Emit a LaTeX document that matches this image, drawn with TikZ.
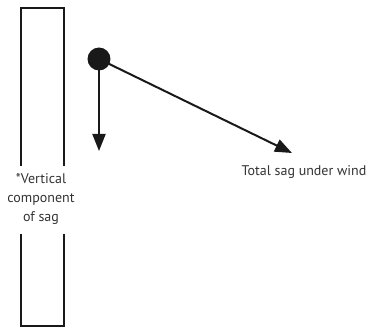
\documentclass[tikz,border=0pt]{standalone}
\usepackage{fontspec}
\setmainfont{PT Sans}
\usetikzlibrary{arrows.meta}
\begin{document}
\begin{tikzpicture}[x=1pt,y=-1pt,
  line/.style={line width=2pt,draw=black!90},
  arr/.style={line,-{Triangle[length=17pt,width=13pt]}},
  lbl/.style={font=\fontsize{14}{19}\selectfont,text=black!80,align=center,inner sep=0pt}]
\useasboundingbox (0,0) rectangle (368,329);
\coordinate (rtl) at (21,8);
\coordinate (rtr) at (64,8);
\coordinate (rgl) at (21,166);
\coordinate (rgr) at (64,166);
\coordinate (rbl) at (21,234);
\coordinate (rbr) at (64,234);
\coordinate (rbotl) at (21,326);
\coordinate (rbotr) at (64,326);
\draw[line] (rgl) -- (rtl) -- (rtr) -- (rgr);
\draw[line] (rbl) -- (rbotl) -- (rbotr) -- (rbr);
\node[lbl] (vlabel) at (41,199) {*Vertical\\component\\of sag};
\node[circle,fill=black!90,minimum size=23pt,inner sep=0pt] (dot) at (99,59) {};
\coordinate (vtip) at (99,151);
\coordinate (dtip) at (292,153);
\draw[arr] (dot.center) -- (vtip);
\draw[arr] (dot.center) -- (dtip);
\node[lbl] (tlabel) at (304,172) {Total sag under wind};
\end{tikzpicture}
\end{document}
